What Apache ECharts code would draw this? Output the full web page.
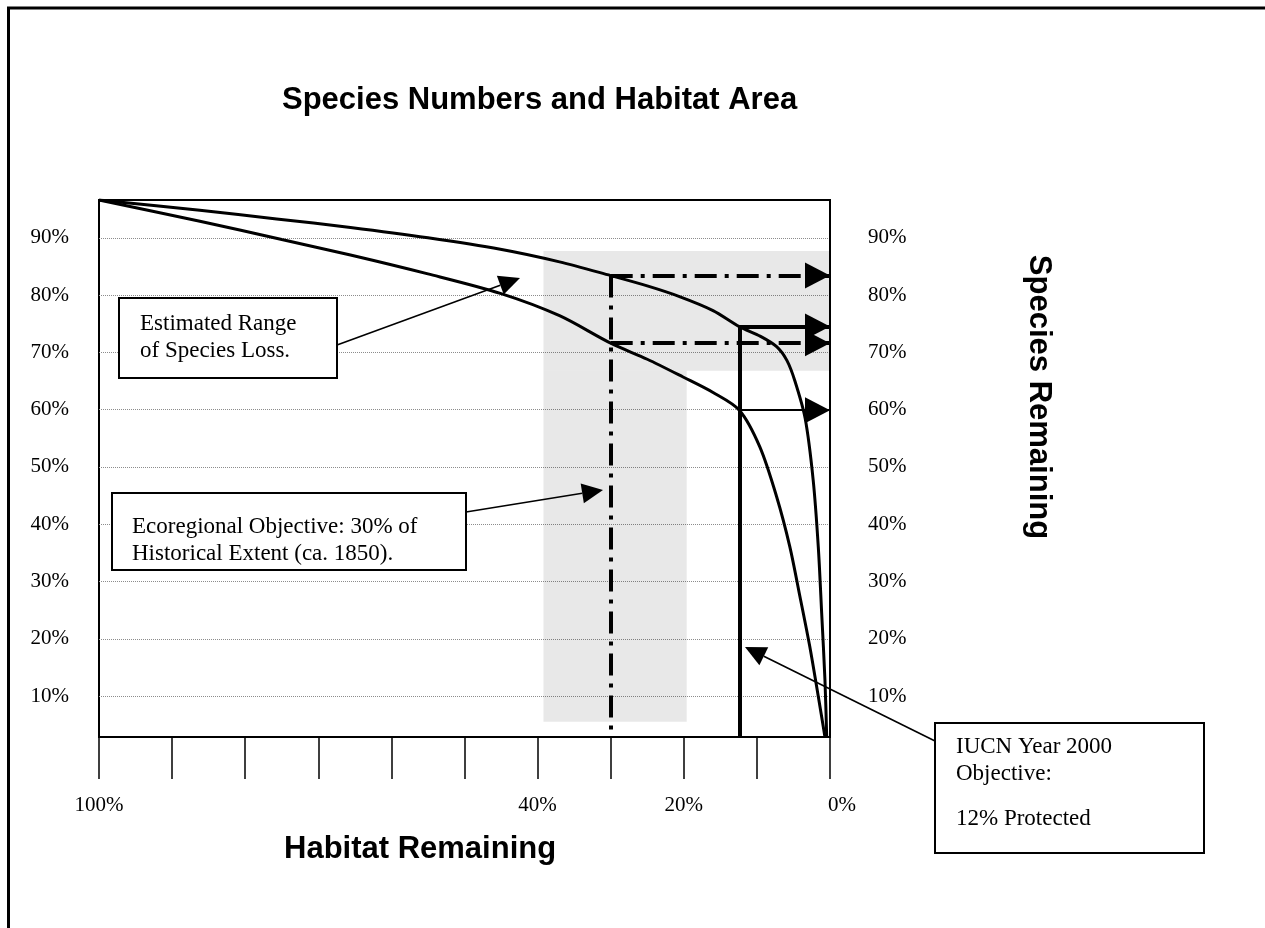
<!DOCTYPE html>
<html>
<head>
<meta charset="utf-8">
<script src="https://cdn.jsdelivr.net/npm/echarts@6/dist/echarts.min.js"></script>
<style>
  html, body { margin: 0; background: #fff; }
  #chart { width: 1265px; height: 928px; }
</style>
</head>
<body>
<div id="chart"></div>
<script>
// habitat remaining (%) , species remaining (%)
const upperCurve = [
  [100, 96.6], [86.2, 94.8], [75.7, 93.3], [65.6, 91.8], [55, 90.0], [45.1, 88.0],
  [37, 85.8], [30, 83.4], [25, 81.6], [20.5, 79.7], [16, 77.3], [12.4, 74.5],
  [9.5, 72.8], [7.3, 71.0], [5.9, 68.6], [4.8, 65.0], [3.4, 58.5], [2.3, 47.7],
  [1.6, 36.0], [1.14, 24.5], [0.69, 12.8], [0.45, 2.85]
];
const lowerCurve = [
  [100, 96.6], [86.2, 92.9], [75, 89.7], [65.6, 87.0], [55, 83.7], [45.1, 80.3],
  [37, 76.4], [30, 71.6], [25, 68.8], [20.1, 65.7], [16, 63.0], [12.4, 59.9],
  [9.6, 53.5], [7.3, 44.8], [5.5, 36.1], [4.1, 27.3], [2.76, 18.6], [1.6, 9.9],
  [0.69, 2.85]
];

// shaded "estimated range" bands
const bandHabitat = [39.2, 19.6, 0];
const bandSpecies = [87.7, 66.8, 5.5];

// objectives
const ecoObjective = 30;
const ecoSpecies = [83.4, 71.6];
const iucnObjective = 12.4;
const iucnSpecies = [74.5, 59.9];

const speciesMin = 2.85, speciesMax = 96.6;
const habitatLabels = { 100: '100%', 40: '40%', 20: '20%', 0: '0%' };

const serif = '"Liberation Serif", "Times New Roman", serif';
const sans = '"Liberation Sans", Arial, sans-serif';

const chart = echarts.init(document.getElementById('chart'), null, { renderer: 'canvas' });

function seg(from, to, style, arrow) {
  return [
    { coord: from, symbol: 'none', lineStyle: style },
    { coord: to, symbol: arrow ? 'triangle' : 'none', symbolSize: [26, 25], symbolOffset: [0, '50%'], lineStyle: style }
  ];
}
const dashDot = { color: '#000', width: 4, type: [22, 8, 4, 8], cap: 'butt' };
const solidThick = { color: '#000', width: 4, type: 'solid' };
const solidThin = { color: '#000', width: 2, type: 'solid' };

// callout boxes (pixel layout)
const callouts = [
  { box: [119, 298, 218, 80], text: 'Estimated Range\nof Species Loss.', tx: 140, ty: 310.5,
    from: [337, 345], tip: [520, 278] },
  { box: [112, 493, 354, 77], text: 'Ecoregional Objective: 30% of\nHistorical Extent (ca. 1850).', tx: 132, ty: 513.8,
    from: [466, 512], tip: [603, 490] },
  { box: [935, 723, 269, 130], text: 'IUCN Year 2000\nObjective:', tx: 956, ty: 733.8,
    extra: { text: '12% Protected', tx: 956, ty: 805.5 },
    from: [935, 741], tip: [745, 647] }
];

function arrowGraphics(from, tip) {
  const dx = tip[0] - from[0], dy = tip[1] - from[1];
  const len = Math.hypot(dx, dy);
  const ux = dx / len, uy = dy / len;
  const L = 21, W = 20;
  const bx = tip[0] - ux * L, by = tip[1] - uy * L;
  const nx = -uy, ny = ux;
  return [
    { type: 'line', z: 100, shape: { x1: from[0], y1: from[1], x2: bx, y2: by },
      style: { stroke: '#000', lineWidth: 1.6 } },
    { type: 'polygon', z: 100, shape: { points: [tip, [bx + nx * W / 2, by + ny * W / 2], [bx - nx * W / 2, by - ny * W / 2]] },
      style: { fill: '#000' } }
  ];
}

const graphics = [
  { type: 'rect', z: -10, shape: { x: 8.5, y: 8, width: 1400, height: 1100 },
    style: { fill: 'none', stroke: '#000', lineWidth: 3 } },
  { type: 'text', z: 100, x: 284, y: 834, style: { text: 'Habitat Remaining', font: 'bold 31px ' + sans, fill: '#000', lineHeight: 31 } },
  { type: 'text', z: 100, x: 1039, y: 397, rotation: -Math.PI / 2,
    style: { text: 'Species Remaining', font: 'bold 31px ' + sans, fill: '#000', align: 'center', verticalAlign: 'middle' } }
];
callouts.forEach(c => {
  graphics.push(...arrowGraphics(c.from, c.tip));
  graphics.push({ type: 'rect', z: 101, shape: { x: c.box[0], y: c.box[1], width: c.box[2], height: c.box[3] },
    style: { fill: '#fff', stroke: '#000', lineWidth: 2 } });
  graphics.push({ type: 'text', z: 102, x: c.tx, y: c.ty,
    style: { text: c.text, font: '23px ' + serif, fill: '#000', lineHeight: 27 } });
  if (c.extra) {
    graphics.push({ type: 'text', z: 102, x: c.extra.tx, y: c.extra.ty,
      style: { text: c.extra.text, font: '23px ' + serif, fill: '#000', lineHeight: 27 } });
  }
});

const pctLabel = v => (Math.abs(v - Math.round(v / 10) * 10) < 1e-6 && v >= 10 && v <= 90) ? Math.round(v) + '%' : '';
const yAxisBase = {
  type: 'value', min: speciesMin, max: speciesMax, splitNumber: 10,
  axisTick: { show: false },
  axisLine: { show: true, lineStyle: { color: '#000', width: 2 } }
};

const option = {
  animation: false,
  backgroundColor: '#fff',
  title: {
    text: 'Species Numbers and Habitat Area', left: 282, top: 85, padding: 0,
    textStyle: { fontFamily: sans, fontWeight: 'bold', fontSize: 31, color: '#000' }
  },
  grid: { left: 99, top: 200, width: 731, height: 537, show: true, borderColor: '#000', borderWidth: 2, backgroundColor: 'transparent' },
  xAxis: {
    type: 'value', min: 0, max: 100, interval: 10, inverse: true,
    axisLine: { show: true, lineStyle: { color: '#000', width: 2 } },
    axisTick: { show: true, length: 42, lineStyle: { color: '#000', width: 1.5 } },
    splitLine: { show: false },
    axisLabel: {
      margin: 58, verticalAlign: 'top', fontFamily: serif, fontSize: 21, color: '#000',
      formatter: v => v === 0 ? '{z|0%}' : (habitatLabels[v] || ''),
      rich: { z: { fontFamily: serif, fontSize: 21, color: '#000', padding: [0, 0, 0, 24] } }
    }
  },
  yAxis: [
    Object.assign({}, yAxisBase, {
      position: 'left',
      splitLine: { show: true, showMinLine: false, showMaxLine: false, lineStyle: { color: '#8c8c8c', type: 'dotted', width: 1 } },
      axisLabel: { margin: 30, fontFamily: serif, fontSize: 21, color: '#000', padding: [8, 0, 0, 0], formatter: pctLabel }
    }),
    Object.assign({}, yAxisBase, {
      position: 'right',
      splitLine: { show: false },
      axisLabel: { margin: 38, fontFamily: serif, fontSize: 21, color: '#000', padding: [8, 0, 0, 0], formatter: pctLabel }
    })
  ],
  series: [
    {
      name: 'range', type: 'line', data: [], z: 1, silent: true,
      markArea: {
        silent: true,
        itemStyle: { color: 'rgba(0,0,0,0.09)' },
        data: [
          [{ coord: [bandHabitat[0], bandSpecies[0]] }, { coord: [bandHabitat[2], bandSpecies[1]] }],
          [{ coord: [bandHabitat[0], bandSpecies[1]] }, { coord: [bandHabitat[1], bandSpecies[2]] }]
        ]
      }
    },
    {
      name: 'upper', type: 'line', data: upperCurve, z: 3, showSymbol: false, silent: true,
      smooth: 0.3,
      lineStyle: { color: '#000', width: 3 }
    },
    {
      name: 'lower', type: 'line', data: lowerCurve, z: 3, showSymbol: false, silent: true,
      smooth: 0.3,
      lineStyle: { color: '#000', width: 3 }
    },
    {
      name: 'objectives', type: 'line', data: [], z: 4, silent: true,
      markLine: {
        silent: true, animation: false,
        label: { show: false },
        emphasis: { disabled: true },
        data: [
          seg([ecoObjective, ecoSpecies[0]], [ecoObjective, speciesMin], dashDot, false),
          seg([ecoObjective, ecoSpecies[0]], [0, ecoSpecies[0]], dashDot, true),
          seg([ecoObjective, ecoSpecies[1]], [0, ecoSpecies[1]], dashDot, true),
          seg([iucnObjective, iucnSpecies[0]], [iucnObjective, speciesMin], solidThick, false),
          seg([iucnObjective, iucnSpecies[0]], [0, iucnSpecies[0]], solidThick, true),
          seg([iucnObjective, iucnSpecies[1]], [0, iucnSpecies[1]], solidThin, true)
        ]
      }
    }
  ],
  graphic: graphics
};

chart.setOption(option);
</script>
</body>
</html>
